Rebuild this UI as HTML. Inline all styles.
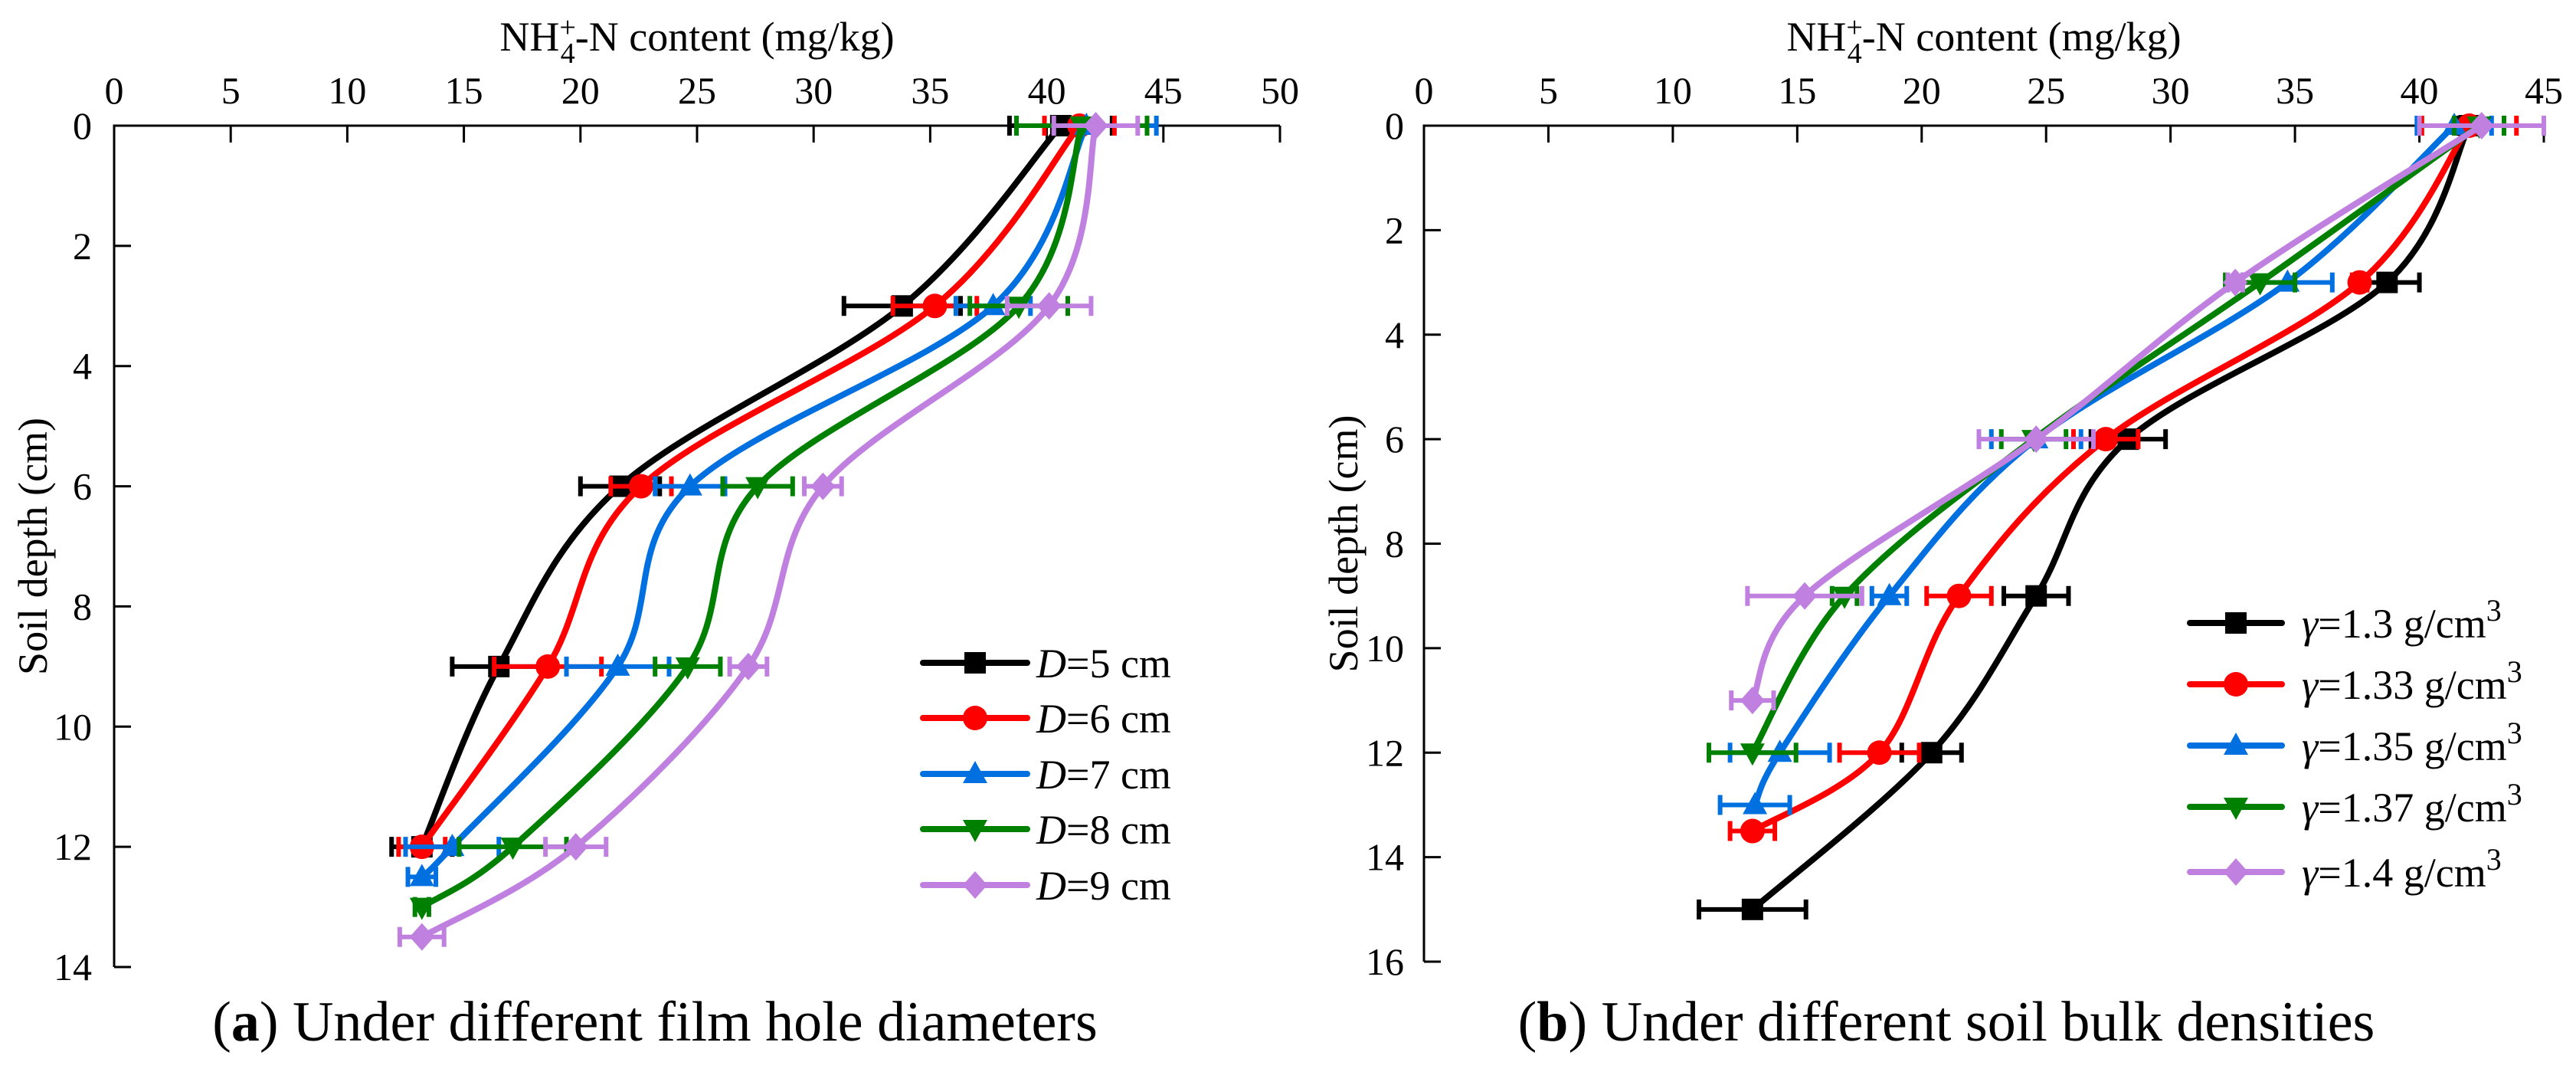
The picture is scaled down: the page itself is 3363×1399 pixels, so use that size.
<!DOCTYPE html>
<html><head><meta charset="utf-8"><style>
html,body{margin:0;padding:0;background:#fff;}
svg, svg text, svg tspan{font-family:"Liberation Serif","DejaVu Serif",serif !important;}
</style></head><body>
<svg id="fig" width="3363" height="1394" viewBox="0 0 3363 1394" xmlns="http://www.w3.org/2000/svg" font-family="Liberation Serif, DejaVu Serif, serif"></svg>
<script>
// ---------- Chart (a) data ----------
const aXTicks = [0,5,10,15,20,25,30,35,40,45,50];
const aYTicks = [0,2,4,6,8,10,12,14];
const aNames = ["D=5 cm","D=6 cm","D=7 cm","D=8 cm","D=9 cm"];
const aDepth5 = [0,3,6,9,12];
const aVal5 = [40.6,33.8,21.7,16.5,13.2];
const aErr5 = [2.2,2.5,1.7,2.0,1.3];
const aDepth6 = [0,3,6,9,12];
const aVal6 = [41.4,35.2,22.6,18.6,13.2];
const aErr6 = [1.5,1.8,1.3,2.3,1.0];
const aDepth7 = [0,3,6,9,12,12.5];
const aVal7 = [41.7,37.7,24.7,21.6,14.5,13.2];
const aErr7 = [3.0,1.6,1.5,2.2,2.0,0.6];
const aDepth8 = [0,3,6,9,12,13];
const aVal8 = [41.5,38.8,27.6,24.6,17.1,13.2];
const aErr8 = [2.8,2.1,1.5,1.4,2.3,0.3];
const aDepth9 = [0,3,6,9,12,13.5];
const aVal9 = [42.1,40.1,30.4,27.2,19.8,13.2];
const aErr9 = [1.8,1.8,0.8,0.8,1.3,0.95];
// ---------- Chart (b) data ----------
const bXTicks = [0,5,10,15,20,25,30,35,40,45];
const bYTicks = [0,2,4,6,8,10,12,14,16];
const bNames = ["1.3","1.33","1.35","1.37","1.4"];
const bDepth1 = [0,3,6,9,12,15];
const bVal1 = [42.0,38.7,28.3,24.6,20.4,13.2];
const bErr1 = [0.5,1.3,1.5,1.3,1.2,2.15];
const bDepth2 = [0,3,6,9,12,13.5];
const bVal2 = [42.0,37.6,27.4,21.5,18.3,13.2];
const bErr2 = [1.9,0.3,1.3,1.3,1.6,0.9];
const bDepth3 = [0,3,6,9,12,13];
const bVal3 = [41.4,34.7,24.6,18.7,14.3,13.3];
const bErr3 = [1.5,1.8,1.8,0.7,2.0,1.4];
const bDepth4 = [0,3,6,9,12];
const bVal4 = [42.4,33.6,24.5,16.9,13.2];
const bErr4 = [1.0,1.4,1.3,0.5,1.75];
const bDepth5 = [0,3,6,9,11];
const bVal5 = [42.5,32.6,24.6,15.3,13.2];
const bErr5 = [2.5,0.3,2.3,2.3,0.85];

const COLORS = ["#000000","#ff0000","#0070e0","#008000","#c080e0"];
const MARKERS = ["square","circle","triangle","tri-down","diamond"];
const FONT = "Liberation Serif, DejaVu Serif, serif";
const NS = "http://www.w3.org/2000/svg";
const svg = document.getElementById("fig");
function mk(tag, attrs, parent){
  const e = document.createElementNS(NS, tag);
  for (const k in attrs) e.setAttribute(k, attrs[k]);
  if (tag==="text") e.setAttribute("font-family", FONT);
  (parent||svg).appendChild(e);
  return e;
}
function smoothPath(pts){
  let d = "M"+pts[0][0]+","+pts[0][1];
  for (let i=0;i<pts.length-1;i++){
    const p0 = pts[Math.max(0,i-1)], p1=pts[i], p2=pts[i+1], p3=pts[Math.min(pts.length-1,i+2)];
    const c1x = p1[0]+(p2[0]-p0[0])/6, c1y = p1[1]+(p2[1]-p0[1])/6;
    const c2x = p2[0]-(p3[0]-p1[0])/6, c2y = p2[1]-(p3[1]-p1[1])/6;
    d += " C"+c1x+","+c1y+" "+c2x+","+c2y+" "+p2[0]+","+p2[1];
  }
  return d;
}
function marker(g, type, cx, cy, color){
  let e;
  if (type==="square") e = mk("rect",{x:cx-14,y:cy-14,width:28,height:28,fill:color},g);
  else if (type==="circle") e = mk("circle",{cx:cx,cy:cy,r:16,fill:color},g);
  else if (type==="triangle") e = mk("polygon",{points:(cx)+","+(cy-17)+" "+(cx+16)+","+(cy+12)+" "+(cx-16)+","+(cy+12),fill:color},g);
  else if (type==="tri-down") e = mk("polygon",{points:(cx)+","+(cy+17)+" "+(cx+16)+","+(cy-12)+" "+(cx-16)+","+(cy-12),fill:color},g);
  else e = mk("polygon",{points:(cx)+","+(cy-18)+" "+(cx+16)+","+cy+" "+(cx)+","+(cy+18)+" "+(cx-16)+","+cy,fill:color},g);
  
  
  return e;
}

function drawChart(cfg){
  const {x0,y0,xmax,ymaxPx,xMaxVal,yMaxVal,xTicks,yTicks,series,id,tickRight,titleX,yTitleX} = cfg;
  const sx = v => x0 + v*(xmax-x0)/xMaxVal;
  const sy = v => y0 + v*(ymaxPx-y0)/yMaxVal;
  const g = mk("g",{});
  
  
  const ax = mk("path",{d:"M"+x0+","+ymaxPx+" L"+x0+","+y0+" L"+xmax+","+y0,stroke:"#000","stroke-width":3,fill:"none"},g);
  
  
  xTicks.forEach(t=>{
    const tk = mk("line",{x1:sx(t),x2:sx(t),y1:y0,y2:y0+22,stroke:"#000","stroke-width":3},g);
    
    
    const lb = mk("text",{x:sx(t),y:135,"font-size":50,"text-anchor":"middle"},g);
    lb.textContent = t;
    
    
  });
  yTicks.forEach(t=>{
    const tk = mk("line",{x1:x0,x2:x0+22,y1:sy(t),y2:sy(t),stroke:"#000","stroke-width":3},g);
    
    
    const lb = mk("text",{x:tickRight,y:sy(t)+17,"font-size":50,"text-anchor":"end"},g);
    lb.textContent = t;
    
    
  });
  const xt = mk("text",{x:titleX,y:66,"font-size":54,"text-anchor":"middle"},g);
  
  
  xt.innerHTML = 'NH<tspan dy="-18" font-size="38">+</tspan><tspan dx="-20" dy="34" font-size="38">4</tspan><tspan dy="-16">-N content (mg/kg)</tspan>';
  const yt = mk("text",{x:0,y:0,"font-size":54,"text-anchor":"middle",transform:"translate("+(yTitleX+18)+","+((y0+ymaxPx)/2)+") rotate(-90)"},g);
  yt.textContent = "Soil depth (cm)";
  
  
  series.forEach((s,i)=>{
    const sg = mk("g",{},g);
    
    
    const pts = s.val.map((v,j)=>[sx(v),sy(s.depth[j])]);
    const ln = mk("path",{d:smoothPath(pts),stroke:COLORS[i],"stroke-width":8,fill:"none","stroke-linecap":"round"},sg);
    
    
    s.val.forEach((v,j)=>{
      const y = sy(s.depth[j]), xa = sx(v-s.err[j]), xb = sx(Math.min(v+s.err[j], xMaxVal));
      const eb = mk("path",{d:"M"+xa+","+y+" L"+xb+","+y+" M"+xa+","+(y-13)+" L"+xa+","+(y+13)+" M"+xb+","+(y-13)+" L"+xb+","+(y+13),stroke:COLORS[i],"stroke-width":6,fill:"none"},sg);
      
      
    });
    s.val.forEach((v,j)=>marker(sg, MARKERS[i], sx(v), sy(s.depth[j]), COLORS[i]));
  });
}

function legend(x1,x2,textX,rows,labels,isGamma,id){
  const g = mk("g",{});
  
  
  labels.forEach((lab,i)=>{
    const y = rows[i];
    const e = mk("g",{},g);
    
    
    mk("line",{x1:x1,x2:x2,y1:y,y2:y,stroke:COLORS[i],"stroke-width":8,"stroke-linecap":"round"},e);
    marker(e, MARKERS[i], (x1+x2)/2, y, COLORS[i]);
    const t = mk("text",{x:textX,y:y+19,"font-size":54},e);
    if (isGamma) t.innerHTML = '<tspan font-style="italic">γ</tspan>='+lab+' g/cm<tspan dy="-22" font-size="40">3</tspan>';
    else t.innerHTML = '<tspan font-style="italic">D</tspan>='+lab.slice(2);
  });
}

drawChart({x0:149,y0:164,xmax:1671,ymaxPx:1262,xMaxVal:50,yMaxVal:14,xTicks:aXTicks,yTicks:aYTicks,id:"chart-a",tickRight:120,titleX:910,yTitleX:43,
  series:[{depth:aDepth5,val:aVal5,err:aErr5},{depth:aDepth6,val:aVal6,err:aErr6},{depth:aDepth7,val:aVal7,err:aErr7},{depth:aDepth8,val:aVal8,err:aErr8},{depth:aDepth9,val:aVal9,err:aErr9}]});
drawChart({x0:1859,y0:164,xmax:3321,ymaxPx:1255,xMaxVal:45,yMaxVal:16,xTicks:bXTicks,yTicks:bYTicks,id:"chart-b",tickRight:1833,titleX:2590,yTitleX:1754,
  series:[{depth:bDepth1,val:bVal1,err:bErr1},{depth:bDepth2,val:bVal2,err:bErr2},{depth:bDepth3,val:bVal3,err:bErr3},{depth:bDepth4,val:bVal4,err:bErr4},{depth:bDepth5,val:bVal5,err:bErr5}]});

legend(1205,1341,1353,[865,937,1010,1082,1155],aNames,false,"legend-a");
legend(2859,2979,3005,[813,893,973,1053,1138],bNames,true,"legend-b");

const ca = mk("text",{x:855,y:1358,"font-size":74,"text-anchor":"middle"});
ca.innerHTML = '(<tspan font-weight="bold">a</tspan>) Under different film hole diameters';


const cb = mk("text",{x:2541,y:1358,"font-size":74,"text-anchor":"middle"});
cb.innerHTML = '(<tspan font-weight="bold">b</tspan>) Under different soil bulk densities';


</script>
</body></html>
